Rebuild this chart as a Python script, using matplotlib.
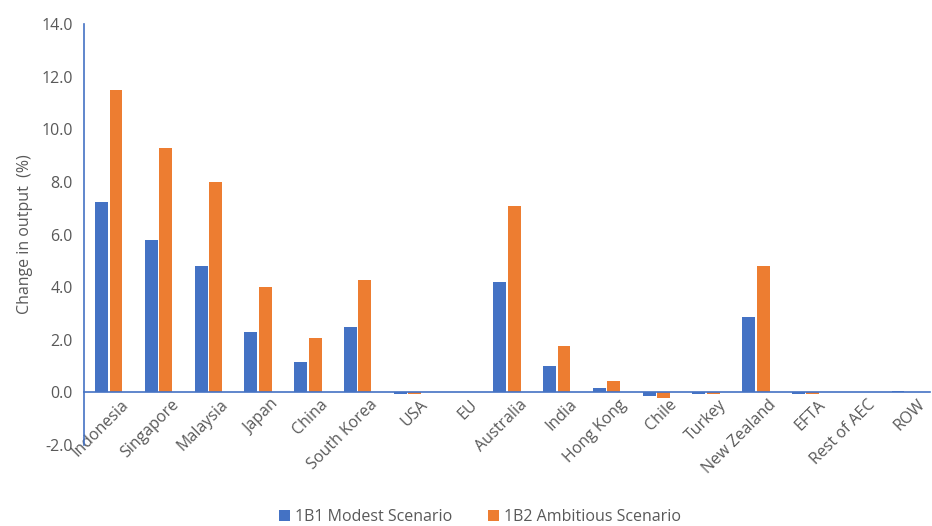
import numpy as np
import matplotlib.pyplot as plt
from matplotlib import transforms

# Dados do gráfico
paises = ["Indonesia", "Singapore", "Malaysia", "Japan", "China", "South Korea", "USA", "EU",
          "Australia", "India", "Hong Kong", "Chile", "Turkey", "New Zealand", "EFTA",
          "Rest of AEC", "ROW"]
modesto = [7.25, 5.8, 4.8, 2.3, 1.15, 2.5, -0.07, 0.03, 4.2, 1.0, 0.15, -0.15, -0.05, 2.85,
           -0.06, 0.0, 0.04]
ambicioso = [11.5, 9.3, 8.0, 4.0, 2.05, 4.27, -0.08, 0.03, 7.08, 1.75, 0.45, -0.22, -0.06, 4.8,
             -0.06, 0.0, 0.03]
y_ticks = [-2.0, 0.0, 2.0, 4.0, 6.0, 8.0, 10.0, 12.0, 14.0]

azul = "#4472C4"
laranja = "#ED7D31"
cinza = "#595959"

plt.rcParams['font.family'] = ['Open Sans', 'DejaVu Sans']

fig = plt.figure(figsize=(9.32, 5.26), dpi=100)
ax = fig.add_axes([0.090, 0.154, 0.908, 0.800])

x = np.arange(len(paises))
largura = 0.26
ax.bar(x - 0.145, modesto, largura, color=azul, label="1B1 Modest Scenario")
ax.bar(x + 0.145, ambicioso, largura, color=laranja, label="1B2 Ambitious Scenario")

ax.set_xlim(-0.5, len(paises) - 0.5)
ax.set_ylim(-2, 14)
ax.set_yticks(y_ticks)
ax.set_yticklabels([f"{v:.1f}" for v in y_ticks], fontsize=11.5, color=cinza)
ax.tick_params(axis='y', length=0, pad=8)

# Eixo x na linha do zero
ax.spines['bottom'].set_position(('data', 0))
for s in ['top', 'right']:
    ax.spines[s].set_visible(False)
ax.spines['bottom'].set_color(azul)
ax.spines['left'].set_color(azul)
ax.spines['bottom'].set_linewidth(1.2)
ax.spines['left'].set_linewidth(1.2)

ax.set_xticks(x)
ax.set_xticklabels(paises, rotation=45, ha='right', rotation_mode='anchor',
                   fontsize=11.5, color=cinza)
ax.tick_params(axis='x', length=0, pad=3)
deslocamento = transforms.ScaledTranslation(0.12, 0, fig.dpi_scale_trans)
for lbl in ax.get_xticklabels():
    lbl.set_transform(lbl.get_transform() + deslocamento)

ax.set_ylabel("Change in output  (%)", fontsize=11.5, color=cinza, labelpad=6)

fig.legend(loc='lower center', bbox_to_anchor=(0.515, -0.025), ncol=2, frameon=False,
           fontsize=11.5, labelcolor=cinza, handlelength=0.7, handleheight=0.7,
           handletextpad=0.3, columnspacing=2.2)

fig.savefig("out.png", dpi=100)
